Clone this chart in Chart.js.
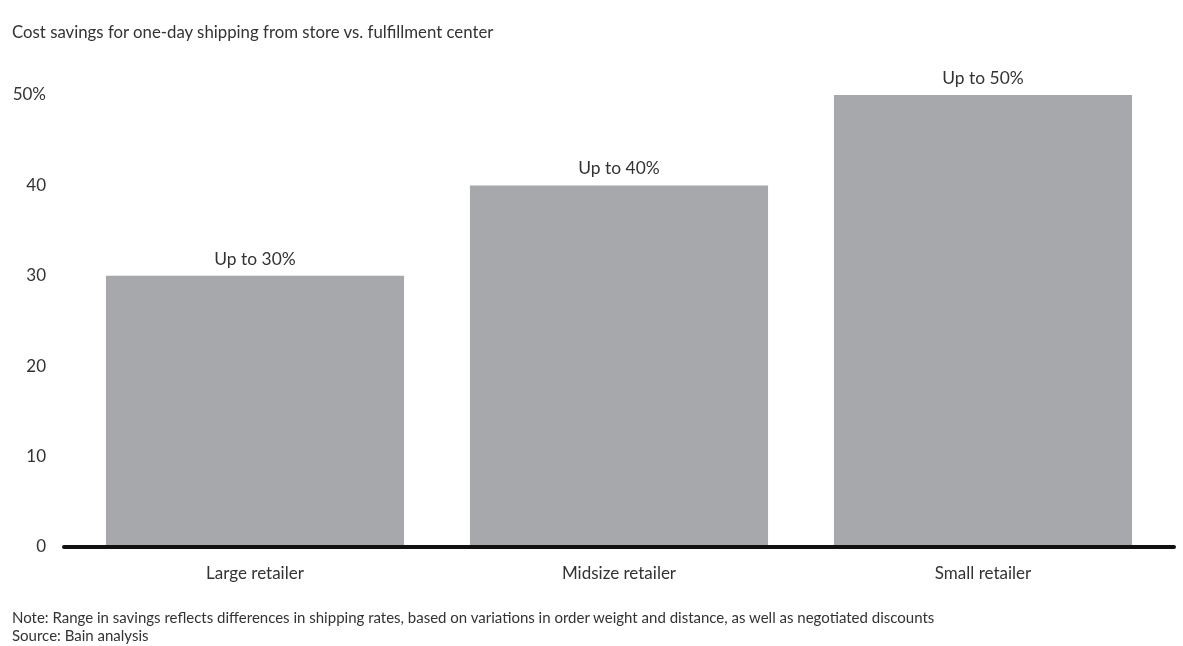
<!DOCTYPE html>
<html>
<head>
<meta charset="utf-8">
<script src="https://cdn.jsdelivr.net/npm/chart.js@4"></script>
<style>
  html, body { margin: 0; padding: 0; background: #fff; }
  body { width: 1183px; height: 646px; position: relative; overflow: hidden; font-family: Lato, "Noto Sans", sans-serif; color: #333; }
  #wrap { position: absolute; left: 0; top: 0; width: 1183px; height: 646px; }
  .txt { position: absolute; left: 12px; white-space: nowrap; }
  #title { top: 21px; font-size: 16.8px; }
  #note { top: 608px; font-size: 15px; }
  #source { top: 626px; font-size: 15px; }
</style>
</head>
<body>
<div id="wrap"><canvas id="c" width="1183" height="646"></canvas></div>
<div class="txt" id="title">Cost savings for one-day shipping from store vs. fulfillment center</div>
<div class="txt" id="note">Note: Range in savings reflects differences in shipping rates, based on variations in order weight and distance, as well as negotiated discounts</div>
<div class="txt" id="source">Source: Bain analysis</div>
<script>
const categories = ["Large retailer", "Midsize retailer", "Small retailer"];
const savings = [30, 40, 50];
const barLabels = ["Up to 30%", "Up to 40%", "Up to 50%"];
const yTicks = [0, 10, 20, 30, 40, 50];

const FONT = 'Lato, "Noto Sans", sans-serif';

const labelPlugin = {
  id: 'barLabels',
  afterDatasetsDraw(chart) {
    const ctx = chart.ctx;
    const meta = chart.getDatasetMeta(0);
    ctx.save();
    ctx.font = '17.4px ' + FONT;
    ctx.fillStyle = '#333';
    ctx.textAlign = 'center';
    ctx.textBaseline = 'bottom';
    meta.data.forEach((bar, i) => {
      ctx.fillText(barLabels[i], bar.x, bar.y - 8);
    });
    ctx.restore();
  }
};

const axisLinePlugin = {
  id: 'axisLine',
  afterDatasetsDraw(chart) {
    const ctx = chart.ctx;
    const y = chart.scales.y.getPixelForValue(0);
    const area = chart.chartArea;
    ctx.save();
    ctx.strokeStyle = '#111';
    ctx.lineWidth = 4;
    ctx.lineCap = 'round';
    ctx.beginPath();
    ctx.moveTo(area.left - 9, y);
    ctx.lineTo(area.right + 9, y);
    ctx.stroke();
    ctx.restore();
  }
};

new Chart(document.getElementById('c'), {
  type: 'bar',
  data: {
    labels: categories,
    datasets: [{
      data: savings,
      backgroundColor: '#a6a8ab',
      borderWidth: 0,
      categoryPercentage: 1.0,
      barPercentage: 0.819
    }]
  },
  options: {
    responsive: false,
    animation: false,
    devicePixelRatio: 1,
    layout: { padding: { top: 95, right: 18, left: 0, bottom: 0 } },
    plugins: { legend: { display: false }, tooltip: { enabled: false } },
    scales: {
      x: {
        grid: { display: false, drawTicks: false },
        border: { display: false },
        ticks: { color: '#333', font: { size: 17, family: FONT }, padding: 16 },
        afterFit(scale) { scale.height = 99; }
      },
      y: {
        min: 0, max: 50,
        afterBuildTicks(scale) { scale.ticks = yTicks.map(v => ({ value: v })); },
        grid: { display: false, drawTicks: false },
        border: { display: false },
        ticks: {
          color: '#333',
          font: { size: 17, family: FONT },
          padding: 27,
          callback: (v) => v === 50 ? '50%' : String(v)
        },
        afterFit(scale) { scale.width = 73; }
      }
    }
  },
  plugins: [labelPlugin, axisLinePlugin]
});
</script>
</body>
</html>
